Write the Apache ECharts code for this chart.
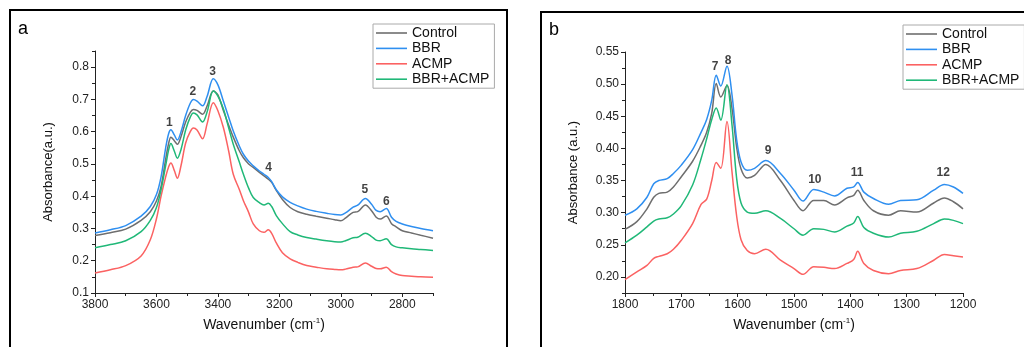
<!DOCTYPE html>
<html>
<head>
<meta charset="utf-8">
<script src="https://cdn.jsdelivr.net/npm/echarts@6/dist/echarts.min.js"></script>
<style>
html,body{margin:0;padding:0;background:#fff;}
#chart{width:1024px;height:347px;}
</style>
</head>
<body>
<div id="chart"></div>
<script>
// ---------- Panel a data (3800–2700 cm-1) ----------
const waveA = [3800,3750,3700,3650,3620,3600,3585,3570,3560,3553,3542,3532,3520,3505,3490,3480,3468,3450,3435,3415,3400,3382,3365,3350,3330,3317,3300,3285,3265,3250,3236,3225,3210,3190,3165,3140,3111,3080,3046,3020,3000,2985,2960,2945,2920,2900,2885,2872,2852,2835,2820,2800,2770,2740,2700];
const controlA = [.278,.287,.298,.325,.352,.385,.430,.515,.565,.583,.572,.561,.585,.630,.660,.669,.666,.654,.680,.726,.714,.665,.620,.583,.540,.519,.500,.489,.474,.463,.453,.443,.418,.390,.365,.352,.344,.338,.332,.327,.324,.332,.350,.352,.373,.355,.335,.329,.339,.315,.305,.293,.286,.279,.270];
const bbrA = [.286,.296,.309,.338,.368,.405,.460,.550,.595,.606,.590,.574,.600,.650,.688,.700,.695,.680,.710,.764,.745,.694,.645,.602,.555,.530,.508,.494,.478,.468,.458,.445,.420,.398,.381,.370,.360,.353,.347,.343,.342,.348,.366,.372,.393,.375,.356,.352,.362,.335,.322,.314,.306,.300,.293];
const acmpA = [.162,.172,.185,.215,.265,.330,.400,.460,.492,.503,.480,.456,.495,.565,.600,.611,.605,.578,.625,.690,.665,.612,.540,.468,.420,.386,.350,.314,.293,.288,.296,.285,.255,.225,.206,.195,.185,.180,.175,.173,.172,.174,.180,.181,.193,.183,.176,.175,.180,.166,.159,.154,.152,.150,.149];
const mixA = [.240,.250,.262,.290,.325,.365,.420,.495,.545,.563,.540,.518,.545,.605,.645,.658,.652,.630,.662,.726,.710,.670,.612,.561,.505,.468,.425,.396,.380,.373,.378,.368,.340,.315,.290,.280,.272,.267,.262,.259,.258,.262,.271,.273,.285,.275,.264,.262,.268,.250,.243,.240,.237,.235,.232];
const peaksA = [[3558,0.627,'1'],[3482,0.723,'2'],[3417,0.787,'3'],[3235,0.489,'4'],[2922,0.419,'5'],[2852,0.384,'6']];
const xTicksA = [3800,3600,3400,3200,3000,2800];
const xMinorA = [3700,3500,3300,3100,2900,2700];
const yTicksA = [0.1,0.2,0.3,0.4,0.5,0.6,0.7,0.8];
const yMinorA = [0.15,0.25,0.35,0.45,0.55,0.65,0.75,0.85];

// ---------- Panel b data (1800–1200 cm-1) ----------
const waveB = [1800,1779,1761,1749,1740,1725,1714,1700,1680,1665,1655,1646,1638,1630,1619,1610,1602,1594,1583,1570,1550,1524,1500,1484,1465,1447,1428,1406,1394,1387,1376,1359,1332,1311,1282,1252,1233,1217,1200];
const controlB = [.274,.286,.306,.324,.330,.332,.340,.356,.380,.405,.425,.455,.501,.480,.498,.462,.403,.368,.354,.358,.375,.350,.319,.303,.319,.319,.312,.323,.327,.335,.319,.303,.296,.303,.301,.315,.323,.317,.306];
const bbrB = [.296,.306,.324,.345,.350,.353,.361,.374,.398,.425,.445,.475,.514,.497,.528,.483,.415,.379,.366,.369,.381,.361,.335,.318,.336,.332,.326,.338,.340,.347,.332,.322,.313,.319,.320,.335,.344,.340,.330];
const acmpB = [.196,.208,.218,.229,.232,.236,.243,.257,.283,.313,.321,.350,.378,.369,.442,.363,.296,.258,.241,.236,.243,.226,.213,.204,.216,.215,.213,.221,.227,.240,.221,.210,.205,.210,.213,.226,.235,.233,.231];
const mixB = [.253,.265,.278,.287,.290,.292,.298,.311,.343,.384,.415,.445,.463,.444,.499,.436,.355,.315,.301,.299,.303,.291,.275,.265,.275,.274,.270,.279,.284,.294,.277,.268,.262,.268,.271,.283,.290,.288,.283];
const peaksB = [[1640,0.527,'7'],[1617,0.537,'8'],[1546,0.396,'9'],[1463,0.352,'10'],[1388,0.362,'11'],[1235,0.362,'12']];
const xTicksB = [1800,1700,1600,1500,1400,1300,1200];
const xMinorB = [1750,1650,1550,1450,1350,1250];
const yTicksB = [0.20,0.25,0.30,0.35,0.40,0.45,0.50,0.55];
const yMinorB = [0.175,0.225,0.275,0.325,0.375,0.425,0.475,0.525];

const names = ['Control','BBR','ACMP','BBR+ACMP'];
const colors = ['#6e6e6e','#2f8ff0','#fb6262','#20b878'];
const FONT = 'Liberation Sans, Arial, sans-serif';

function pair(xs, ys){ return xs.map((x,i)=>[x, ys[i]]); }

const chart = echarts.init(document.getElementById('chart'), null, {renderer:'canvas'});

function mainX(grid, min, max, ticks){
  return {
    type:'value', gridIndex:grid, min:min, max:max, inverse:true, position:'bottom',
    name:'Wavenumber (cm{sup|-1})', nameLocation:'middle', nameGap:24,
    nameTextStyle:{fontFamily:FONT, fontSize:14, color:'#111',
      rich:{sup:{fontFamily:FONT, fontSize:8, color:'#111', verticalAlign:'top', padding:[0,0,8,0]}}},
    splitLine:{show:false},
    axisLine:{lineStyle:{color:'#222', width:1}},
    axisTick:{show:true, customValues:ticks, length:4, inside:false, lineStyle:{color:'#222'}},
    axisLabel:{customValues:ticks, fontFamily:FONT, fontSize:12, color:'#222', margin:6,
      formatter:v=>String(Math.round(v))}
  };
}
function minorX(grid, min, max, ticks){
  return {
    type:'value', gridIndex:grid, min:min, max:max, inverse:true, position:'bottom',
    splitLine:{show:false}, axisLine:{show:false},
    axisTick:{show:true, customValues:ticks, length:3, lineStyle:{color:'#222'}},
    axisLabel:{show:false}
  };
}
function mainY(grid, min, max, ticks, name, gap, digits){
  return {
    type:'value', gridIndex:grid, min:min, max:max, position:'left',
    name:name, nameLocation:'middle', nameGap:gap,
    nameTextStyle:{fontFamily:FONT, fontSize:13, color:'#111'},
    splitLine:{show:false},
    axisLine:{show:true, lineStyle:{color:'#222', width:1}},
    axisTick:{show:true, customValues:ticks, length:4, lineStyle:{color:'#222'}},
    axisLabel:{customValues:ticks, fontFamily:FONT, fontSize:12, color:'#222', margin:6,
      formatter:v=>v.toFixed(digits)}
  };
}
function minorY(grid, min, max, ticks){
  return {
    type:'value', gridIndex:grid, min:min, max:max, position:'left', offset:0,
    splitLine:{show:false}, axisLine:{show:false},
    axisTick:{show:true, customValues:ticks, length:3, lineStyle:{color:'#222'}},
    axisLabel:{show:false}
  };
}

const dataA = [controlA, bbrA, acmpA, mixA];
const dataB = [controlB, bbrB, acmpB, mixB];
const series = [];
[0,1].forEach(g=>{
  const xs = g===0 ? waveA : waveB;
  const sets = g===0 ? dataA : dataB;
  const xi = g===0 ? 0 : 2;
  const yi = g===0 ? 0 : 2;
  names.forEach((n,i)=>{
    series.push({
      type:'line', name:n, xAxisIndex:xi, yAxisIndex:yi,
      data:pair(xs, sets[i]), showSymbol:false, symbol:'none', smooth:0.35,
      lineStyle:{color:colors[i], width:1.5}, itemStyle:{color:colors[i]},
      z: i===1 ? 5 : 3, silent:true
    });
  });
  series.push({
    type:'scatter', name:'peaks'+g, xAxisIndex:xi, yAxisIndex:yi,
    data:(g===0?peaksA:peaksB), symbolSize:1, itemStyle:{color:'rgba(0,0,0,0)'},
    label:{show:true, position:'inside', formatter:p=>p.data[2],
      fontFamily:FONT, fontSize:12, fontWeight:'bold', color:'#111'},
    silent:true, z:10
  });
});

function legendAt(left, top){
  return {data:names, orient:'vertical', left:left, top:top, icon:'rect',
    itemWidth:31, itemHeight:1.6, itemGap:1.4,
    padding:[2,5,2,3], borderColor:'#aaa', borderWidth:1,
    textStyle:{fontFamily:FONT, fontSize:14, color:'#111', lineHeight:14}};
}

const option = {
  backgroundColor:'#fff',
  animation:false,
  grid:[
    {left:95, top:51, width:338, height:242, containLabel:false},
    {left:625, top:52, width:338, height:241, containLabel:false}
  ],
  xAxis:[
    mainX(0, 2700, 3800, xTicksA), minorX(0, 2700, 3800, xMinorA),
    mainX(1, 1200, 1800, xTicksB), minorX(1, 1200, 1800, xMinorB)
  ],
  yAxis:[
    mainY(0, 0.1, 0.85, yTicksA, 'Absorbance(a.u.)', 40, 1), minorY(0, 0.1, 0.85, yMinorA),
    mainY(1, 0.175, 0.55, yTicksB, 'Absorbance (a.u.)', 45, 2), minorY(1, 0.175, 0.55, yMinorB)
  ],
  legend:[ legendAt(373, 24), legendAt(903, 25) ],
  graphic:[
    {type:'rect', shape:{x:10, y:10, width:497, height:400}, style:{fill:'none', stroke:'#000', lineWidth:2}, silent:true},
    {type:'rect', shape:{x:541, y:12, width:500, height:400}, style:{fill:'none', stroke:'#000', lineWidth:2}, silent:true},
    {type:'text', left:18, top:20, style:{text:'a', fontFamily:FONT, fontSize:18, fill:'#000'}},
    {type:'text', left:549, top:21, style:{text:'b', fontFamily:FONT, fontSize:18, fill:'#000'}}
  ],
  series:series
};
chart.setOption(option);
</script>
</body>
</html>
